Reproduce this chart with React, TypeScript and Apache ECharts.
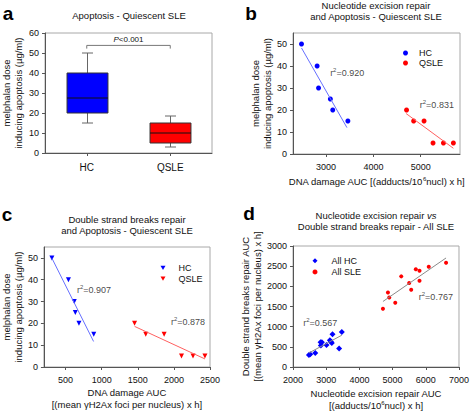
import React, { useEffect, useRef } from 'react';
import * as echarts from 'echarts';

const FONT = '"Liberation Sans", Arial, Helvetica, sans-serif';

// ---------- Panel a: box plot ----------
const boxCategories = ['HC', 'QSLE'];
const boxLow = [15, 3];
const boxQ1 = [20, 5];
const boxMedian = [27.5, 10];
const boxQ3 = [40, 15];
const boxHigh = [50, 18.5];
const boxColors = ['#0000ff', '#ff0000'];
const bracketTop = 53.8;
const bracketDrop = 52.2;

// ---------- Panel b: NER vs apoptosis ----------
const nerHcX = [2480, 2810, 2840, 3090, 3140, 3460];
const nerHcY = [50, 40, 30, 25, 20, 15];
const nerQsleX = [4700, 4850, 5070, 5260, 5480, 5690];
const nerQsleY = [20, 15, 15, 5, 5, 5];
const nerHcFitX = [2480, 3440];
const nerHcFitY = [48.2, 12.0];
const nerQsleFitX = [4690, 5690];
const nerQsleFitY = [18.4, 2.6];
const nerR2 = ['0.920', '0.831'];
const nerR2X = [3085, 4980];
const nerR2Y = [36.7, 22.5];

// ---------- Panel c: DSB vs apoptosis ----------
const dsbHcX = [310, 540, 620, 635, 685, 890];
const dsbHcY = [50, 40, 30, 25, 20, 15];
const dsbQsleX = [1455, 1610, 1865, 2105, 2265, 2430];
const dsbQsleY = [20, 15, 15, 5, 5, 5];
const dsbHcFitX = [312, 888];
const dsbHcFitY = [49.8, 11.7];
const dsbQsleFitX = [1456, 2430];
const dsbQsleFitY = [18.6, 3.7];
const dsbR2 = ['0.907', '0.878'];
const dsbR2X = [658, 1960];
const dsbR2Y = [35.5, 20.6];

// ---------- Panel d: NER vs DSB ----------
const allHcX = [2480, 2520, 2670, 2830, 2870, 2840, 3010, 3110, 3140, 3170, 3190, 3390, 3470];
const allHcY = [298, 315, 348, 613, 613, 530, 547, 663, 630, 597, 812, 456, 870];
const allSleX = [4710, 4860, 4900, 5080, 5260, 5500, 5560, 5700, 5810, 5810, 6090, 6610];
const allSleY = [1442, 1849, 1724, 1592, 2247, 2081, 1915, 2421, 2388, 2139, 2487, 2587];
const allHcFitX = [2480, 3470];
const allHcFitY = [348, 788];
const allSleFitX = [4710, 6610];
const allSleFitY = [1625, 2703];
const allR2 = ['0.567', '0.767'];
const allR2X = [2309, 5789];
const allR2Y = [1086, 1733];

// ---------- tick labels ----------
const aYTicks = [0, 10, 20, 30, 40, 50, 60];
const bXTicks = [3000, 4000, 5000];
const bYTicks = [0, 10, 20, 30, 40, 50];
const cXTicks = [500, 1000, 1500, 2000, 2500];
const cYTicks = [0, 10, 20, 30, 40, 50];
const dXTicks = [2000, 3000, 4000, 5000, 6000, 7000];
const dYTicks = [0, 500, 1000, 1500, 2000, 2500, 3000];

const zip = (xs: number[], ys: number[]) => xs.map((x, i) => [x, ys[i]]);

const TICK_FS = 9;
const NAME_FS = 9.5;
const supRich = {
  sup: { fontSize: 6, verticalAlign: 'top', lineHeight: 6, fontFamily: FONT, color: '#111' },
  it: { fontStyle: 'italic', fontSize: NAME_FS, fontFamily: FONT, color: '#111' },
};

const axisBase = (extra: any) => ({
  axisLine: { show: true, onZero: false, lineStyle: { color: '#555', width: 1 } },
  axisTick: { show: true, inside: false, length: 3, lineStyle: { color: '#555', width: 1 } },
  axisLabel: { color: '#111', fontSize: TICK_FS, fontFamily: FONT, formatter: (v: any) => String(v) },
  splitLine: { show: false },
  nameLocation: 'middle',
  nameTextStyle: { color: '#111', fontSize: NAME_FS, fontFamily: FONT, lineHeight: 11.5, rich: supRich },
  ...extra,
});

const valueAxis = (gridIndex: number, min: number, max: number, ticks: number[], opts: any) => {
  const base: any = axisBase({ gridIndex, type: 'value', min, max, ...opts });
  base.axisLabel = { ...base.axisLabel, customValues: ticks, ...(opts.axisLabelExtra || {}) };
  base.axisTick = { ...base.axisTick, customValues: ticks };
  delete base.axisLabelExtra;
  return base;
};

const r2Series = (name: string, xi: number, yi: number, xs: number[], ys: number[], vals: string[]) => ({
  name,
  type: 'scatter',
  xAxisIndex: xi,
  yAxisIndex: yi,
  symbolSize: 0,
  silent: true,
  data: xs.map((x, i) => ({ value: [x, ys[i]], r2: vals[i] })),
  label: {
    show: true,
    position: 'right',
    distance: 0,
    color: '#111',
    fontSize: 9,
    fontFamily: FONT,
    lineHeight: 12,
    formatter: (p: any) => 'r{sup|2}=' + p.data.r2,
    rich: supRich,
  },
});

const fitSeries = (name: string, xi: number, yi: number, xs: number[], ys: number[], color: string) => ({
  name,
  type: 'line',
  xAxisIndex: xi,
  yAxisIndex: yi,
  showSymbol: false,
  symbol: 'none',
  silent: true,
  data: zip(xs, ys),
  lineStyle: { color, width: 1 },
});

const ptSeries = (name: string, xi: number, yi: number, xs: number[], ys: number[], color: string, symbol: string, size: number, rot = 0) => ({
  name,
  type: 'scatter',
  xAxisIndex: xi,
  yAxisIndex: yi,
  symbol,
  symbolSize: size,
  symbolRotate: rot,
  data: zip(xs, ys),
  itemStyle: { color, opacity: 1 },
});

const buildOption = () => {
  const gridBox = { show: true, borderColor: '#a8a8a8', borderWidth: 1, containLabel: false };
  return {
    animation: false,
    textStyle: { fontFamily: FONT },
    grid: [
      { ...gridBox, left: 43, top: 33, width: 169, height: 120 },
      { ...gridBox, left: 293, top: 33, width: 167, height: 121 },
      { ...gridBox, left: 43, top: 247, width: 167, height: 120 },
      { ...gridBox, left: 293, top: 246, width: 167, height: 121 },
    ],
    xAxis: [
      {
        ...axisBase({}),
        gridIndex: 0,
        type: 'category',
        data: boxCategories,
        boundaryGap: true,
        axisTick: { show: true, alignWithLabel: true, length: 3, lineStyle: { color: '#555' } },
        axisLabel: { color: '#111', fontSize: 10, fontFamily: FONT, margin: 9 },
      },
      valueAxis(1, 2300, 5830, bXTicks, {
        name: 'DNA damage AUC [(adducts/10{sup|6}nucl) x h]',
        nameGap: 22,
        axisLabelExtra: { margin: 8 },
      }),
      valueAxis(2, 200, 2500, cXTicks, {
        name: 'DNA damage AUC\n[(mean γH2Ax foci per nucleus) x h]',
        nameGap: 20,
        axisLabelExtra: { margin: 8 },
      }),
      valueAxis(3, 2000, 7000, dXTicks, {
        name: 'Nucleotide excision repair AUC\n[(adducts/10{sup|6}nucl) x h]',
        nameGap: 21,
        axisLabelExtra: { margin: 8 },
      }),
    ],
    yAxis: [
      valueAxis(0, 0, 60, aYTicks, {
        name: 'melphalan dose\ninducing apoptosis (µg/ml)',
        nameGap: 21,
        axisLabelExtra: { margin: 6 },
      }),
      valueAxis(1, 0, 55, bYTicks, {
        name: 'melphalan dose\ninducing apoptosis (µg/ml)',
        nameGap: 17,
        axisLabelExtra: { margin: 6 },
      }),
      valueAxis(2, 0, 55, cYTicks, {
        name: 'melphalan dose\ninducing apoptosis (µg/ml)',
        nameGap: 17,
        axisLabelExtra: { margin: 6 },
      }),
      valueAxis(3, 0, 3000, dYTicks, {
        name: 'Double strand breaks repair AUC\n[(mean γH2Ax foci per nucleus) x h]',
        nameGap: 27,
        axisLabelExtra: { margin: 6 },
      }),
    ],
    legend: [
      {
        left: 403, top: 48, orient: 'vertical', padding: 0, itemGap: 0,
        itemWidth: 5, itemHeight: 5, selectedMode: false,
        textStyle: { fontSize: 9, fontFamily: FONT, color: '#111', lineHeight: 10, padding: [0, 0, 0, 6] },
        data: [{ name: 'HC', icon: 'circle' }, { name: 'QSLE', icon: 'circle' }],
      },
      {
        left: 160.5, top: 262.5, orient: 'vertical', padding: 0, itemGap: 0,
        itemWidth: 5, itemHeight: 5, selectedMode: false,
        textStyle: { fontSize: 9, fontFamily: FONT, color: '#111', lineHeight: 10.7, padding: [0, 0, 0, 8] },
        data: [
          { name: 'HC', icon: 'path://M0,0L10,0L5,8.7Z' },
          { name: 'QSLE', icon: 'path://M0,0L10,0L5,8.7Z' },
        ],
      },
      {
        left: 312.5, top: 255, orient: 'vertical', padding: 0, itemGap: 0,
        itemWidth: 5, itemHeight: 5, selectedMode: false,
        textStyle: { fontSize: 9, fontFamily: FONT, color: '#111', lineHeight: 11.3, padding: [0, 0, 0, 9] },
        data: [{ name: 'All HC', icon: 'diamond' }, { name: 'All SLE', icon: 'circle' }],
      },
    ],
    graphic: [
      { type: 'text', x: 8, y: 13, style: { text: 'a', font: 'bold 19px ' + FONT, fill: '#000', align: 'center', verticalAlign: 'middle' } },
      { type: 'text', x: 251, y: 13, style: { text: 'b', font: 'bold 19px ' + FONT, fill: '#000', align: 'center', verticalAlign: 'middle' } },
      { type: 'text', x: 7, y: 214, style: { text: 'c', font: 'bold 19px ' + FONT, fill: '#000', align: 'center', verticalAlign: 'middle' } },
      { type: 'text', x: 249, y: 213, style: { text: 'd', font: 'bold 19px ' + FONT, fill: '#000', align: 'center', verticalAlign: 'middle' } },
      { type: 'text', x: 129, y: 15, style: { text: 'Apoptosis - Quiescent SLE', fontSize: NAME_FS, fontFamily: FONT, fill: '#111', align: 'center', verticalAlign: 'middle' } },
      { type: 'text', x: 376, y: 0, style: { text: 'Nucleotide excision repair\nand Apoptosis - Quiescent SLE', fontSize: NAME_FS, fontFamily: FONT, lineHeight: 10.7, fill: '#111', align: 'center', verticalAlign: 'top' } },
      { type: 'text', x: 127, y: 214, style: { text: 'Double strand breaks repair\nand Apoptosis - Quiescent SLE', fontSize: NAME_FS, fontFamily: FONT, lineHeight: 11, fill: '#111', align: 'center', verticalAlign: 'top' } },
      {
        type: 'text', x: 376, y: 209.7,
        style: {
          text: 'Nucleotide excision repair {it|vs}\nDouble strand breaks repair - All SLE',
          fontSize: NAME_FS, fontFamily: FONT, lineHeight: 11.4, fill: '#111', align: 'center', verticalAlign: 'top',
          rich: { it: { fontStyle: 'italic', fontSize: NAME_FS, fontFamily: FONT, fill: '#111', lineHeight: 11.4 } },
        },
      },
    ],
    series: [
      {
        name: 'box',
        type: 'custom',
        xAxisIndex: 0,
        yAxisIndex: 0,
        data: boxCategories.map((_, i) => [i, boxLow[i], boxQ1[i], boxMedian[i], boxQ3[i], boxHigh[i]]),
        renderItem: (params: any, api: any) => {
          const idx = api.value(0);
          const low = api.coord([idx, api.value(1)]);
          const q1 = api.coord([idx, api.value(2)]);
          const med = api.coord([idx, api.value(3)]);
          const q3 = api.coord([idx, api.value(4)]);
          const high = api.coord([idx, api.value(5)]);
          const bandW = api.size([1, 0])[0];
          const halfW = bandW * 0.245;
          const cap = 5.5;
          const cx = Math.round(med[0]) + 0.5;
          const color = boxColors[params.dataIndex];
          const wStyle = { stroke: '#666', lineWidth: 1 };
          return {
            type: 'group',
            children: [
              { type: 'line', shape: { x1: cx, y1: high[1], x2: cx, y2: q3[1] }, style: wStyle },
              { type: 'line', shape: { x1: cx - cap, y1: high[1], x2: cx + cap, y2: high[1] }, style: wStyle },
              { type: 'line', shape: { x1: cx, y1: q1[1], x2: cx, y2: low[1] }, style: wStyle },
              { type: 'line', shape: { x1: cx - cap, y1: low[1], x2: cx + cap, y2: low[1] }, style: wStyle },
              { type: 'rect', shape: { x: cx - halfW, y: q3[1], width: halfW * 2, height: q1[1] - q3[1] }, style: { fill: color, stroke: '#333', lineWidth: 1 } },
              { type: 'line', shape: { x1: cx - halfW, y1: med[1], x2: cx + halfW, y2: med[1] }, style: { stroke: '#111', lineWidth: 1 } },
            ],
          };
        },
      },
      {
        name: 'bracket',
        type: 'custom',
        xAxisIndex: 0,
        yAxisIndex: 0,
        silent: true,
        data: [[0, 1, bracketTop, bracketDrop]],
        renderItem: (_params: any, api: any) => {
          const p0 = api.coord([api.value(0), api.value(2)]);
          const p1 = api.coord([api.value(1), api.value(2)]);
          const d0 = api.coord([api.value(0), api.value(3)]);
          return {
            type: 'group',
            children: [
              {
                type: 'polyline',
                shape: { points: [[p0[0], d0[1]], [p0[0], p0[1]], [p1[0], p0[1]], [p1[0], d0[1]]] },
                style: { stroke: '#777', lineWidth: 1, fill: 'none' },
              },
              {
                type: 'text',
                x: (p0[0] + p1[0]) / 2,
                y: p0[1] - 1.5,
                style: {
                  text: '{i|P}<0.001',
                  fontSize: 8,
                  fontFamily: FONT,
                  fill: '#111',
                  align: 'center',
                  verticalAlign: 'bottom',
                  rich: { i: { fontStyle: 'italic', fontSize: 8, fontFamily: FONT, fill: '#111' } },
                },
              },
            ],
          };
        },
      },
      // panel b
      fitSeries('HC fit b', 1, 1, nerHcFitX, nerHcFitY, '#6670ff'),
      fitSeries('QSLE fit b', 1, 1, nerQsleFitX, nerQsleFitY, '#ff6060'),
      ptSeries('HC', 1, 1, nerHcX, nerHcY, '#0000ff', 'circle', 5),
      ptSeries('QSLE', 1, 1, nerQsleX, nerQsleY, '#ff0000', 'circle', 5),
      r2Series('r2 b', 1, 1, nerR2X, nerR2Y, nerR2),
      // panel c
      fitSeries('HC fit c', 2, 2, dsbHcFitX, dsbHcFitY, '#6670ff'),
      fitSeries('QSLE fit c', 2, 2, dsbQsleFitX, dsbQsleFitY, '#ff6060'),
      ptSeries('HC', 2, 2, dsbHcX, dsbHcY, '#0000ff', 'triangle', 5, 180),
      ptSeries('QSLE', 2, 2, dsbQsleX, dsbQsleY, '#ff0000', 'triangle', 5, 180),
      r2Series('r2 c', 2, 2, dsbR2X, dsbR2Y, dsbR2),
      // panel d
      fitSeries('HC fit d', 3, 3, allHcFitX, allHcFitY, '#8a8a8a'),
      fitSeries('SLE fit d', 3, 3, allSleFitX, allSleFitY, '#8a8a8a'),
      ptSeries('All HC', 3, 3, allHcX, allHcY, '#0000ff', 'diamond', 6),
      ptSeries('All SLE', 3, 3, allSleX, allSleY, '#ff0000', 'circle', 4),
      r2Series('r2 d', 3, 3, allR2X, allR2Y, allR2),
    ],
  };
};

export default function App() {
  const ref = useRef<HTMLDivElement | null>(null);
  useEffect(() => {
    if (!ref.current) return;
    const chart = echarts.init(ref.current, undefined, { renderer: 'svg' });
    chart.setOption(buildOption() as any);
    return () => chart.dispose();
  }, []);
  return (
    <div
      ref={ref}
      style={{ position: 'fixed', left: 0, top: 0, width: 472, height: 412, background: '#fff' }}
    />
  );
}
